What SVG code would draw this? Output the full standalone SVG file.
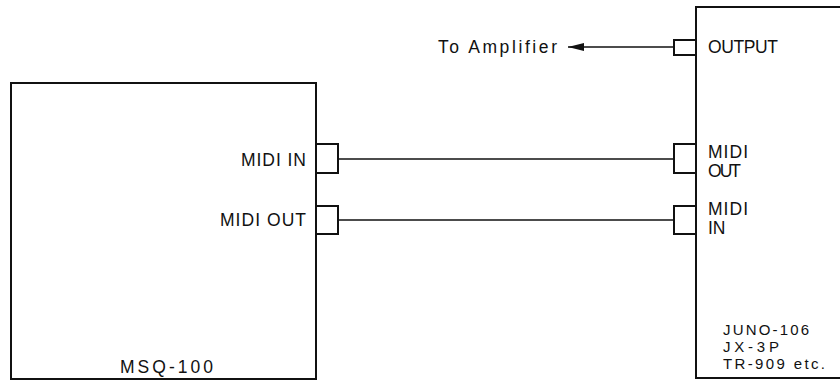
<svg xmlns="http://www.w3.org/2000/svg" width="840" height="387" viewBox="0 0 840 387">
<style>
.box{fill:#fff;stroke:#111;stroke-width:2}
.port{fill:#fff;stroke:#111;stroke-width:2}
.wire{fill:none;stroke:#111;stroke-width:1.5}
text{font-family:"Liberation Sans",Arial,sans-serif;fill:#111;font-size:17.5px}
.sm{font-size:15px}
</style>
<defs>
<marker id="arr" viewBox="0 0 16 10" refX="16" refY="5" markerWidth="16" markerHeight="10" markerUnits="userSpaceOnUse" orient="auto">
<path d="M0,1 L16,5 L0,9 Z" fill="#111"/>
</marker>
</defs>
<g id="connectors">
<line class="wire" x1="673" y1="47" x2="568" y2="47" marker-end="url(#arr)"/>
<line class="wire" x1="338" y1="159" x2="674" y2="159"/>
<line class="wire" x1="338" y1="220" x2="674" y2="220"/>
</g>
<g id="amp-label">
<text x="438" y="53" font-size="21" textLength="119">To Amplifier</text>
</g>
<g id="msq100">
<rect class="box" x="11" y="83" width="305" height="296"/>
<text x="120" y="373" font-size="19" textLength="93">MSQ-100</text>
<rect class="port" x="316" y="144" width="22" height="29"/>
<rect class="port" x="316" y="206" width="22" height="28"/>
<text x="306" y="166" text-anchor="end" textLength="65">MIDI IN</text>
<text x="306" y="226" text-anchor="end" textLength="86">MIDI OUT</text>
</g>
<g id="synth">
<rect class="box" x="696" y="7" width="160" height="371"/>
<rect class="port" x="674" y="40" width="22" height="15"/>
<rect class="port" x="674" y="144" width="22" height="29"/>
<rect class="port" x="674" y="206" width="22" height="28"/>
<text x="708" y="53" textLength="70">OUTPUT</text>
<text x="708" y="158" textLength="40">MIDI</text>
<text x="708" y="177" textLength="33">OUT</text>
<text x="708" y="215" textLength="40">MIDI</text>
<text x="708" y="234">IN</text>
<text class="sm" x="723" y="335" textLength="86">JUNO-106</text>
<text class="sm" x="723" y="352" textLength="56">JX-3P</text>
<text class="sm" x="723" y="369" textLength="102">TR-909 etc.</text>
</g>
</svg>
